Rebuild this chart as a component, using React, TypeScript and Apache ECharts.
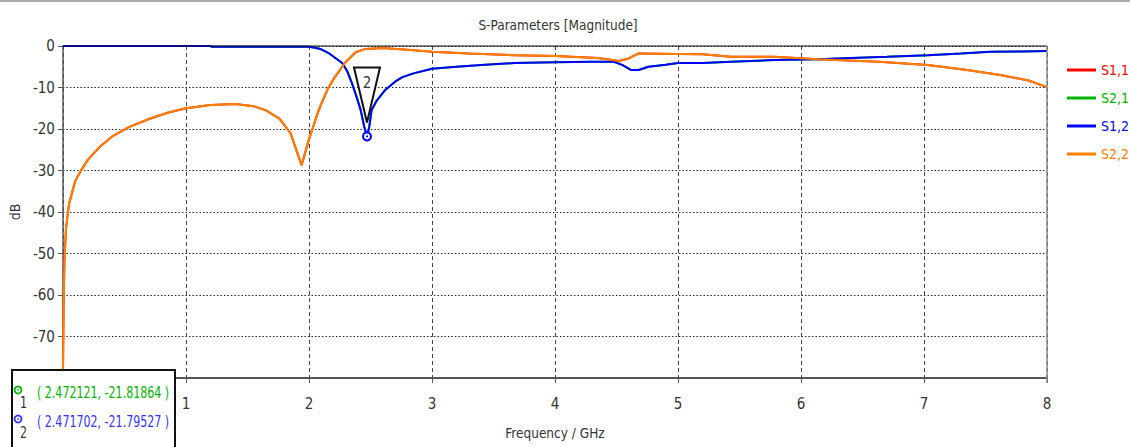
import React, { useEffect, useRef } from "react";
import * as echarts from "echarts";

const FONT = "'DejaVu Sans Condensed', 'Liberation Sans Narrow', 'Noto Sans', sans-serif";

const title = "S-Parameters [Magnitude]";
const xName = "Frequency / GHz";
const yName = "dB";
const seriesNames = ["S1,1", "S2,1", "S1,2", "S2,2"];
const seriesColors = ["#ff0000", "#00b400", "#0000ff", "#ff8000"];

// S1,2 (and S2,1, drawn underneath)
const s12Freq = [0, 1.2, 1.21, 2.0, 2.05, 2.1, 2.16, 2.22, 2.27, 2.31, 2.35, 2.39, 2.42, 2.45, 2.472, 2.49, 2.51, 2.55, 2.62, 2.7, 2.76, 2.85, 3.0, 3.2, 3.4, 3.67, 4.0, 4.3, 4.48, 4.55, 4.62, 4.68, 4.76, 4.9, 5.0, 5.2, 5.43, 5.78, 6.14, 6.41, 6.7, 7.03, 7.3, 7.54, 7.8, 8.0];
const s12dB = [0, 0, -0.2, -0.2, -0.4, -0.8, -1.7, -3.0, -4.1, -6.0, -9.0, -12.5, -15.4, -19.5, -21.8, -19.5, -15.4, -13.2, -10.6, -8.6, -7.5, -6.6, -5.5, -5.0, -4.6, -4.1, -3.9, -3.8, -3.8, -4.6, -5.8, -5.8, -5.0, -4.5, -4.1, -4.1, -3.8, -3.4, -3.2, -2.9, -2.6, -2.2, -1.8, -1.4, -1.3, -1.2];

// S2,2 (and S1,1, drawn underneath)
const s22Freq = [0, 0.005, 0.012, 0.025, 0.05, 0.1, 0.15, 0.2, 0.3, 0.4, 0.54, 0.7, 0.85, 1.0, 1.2, 1.4, 1.55, 1.65, 1.76, 1.85, 1.94, 2.0, 2.08, 2.15, 2.21, 2.3, 2.38, 2.46, 2.6, 2.8, 3.0, 3.3, 3.67, 4.0, 4.35, 4.52, 4.6, 4.68, 5.0, 5.2, 5.43, 5.78, 6.14, 6.63, 7.03, 7.35, 7.62, 7.85, 8.0];
const s22dB = [-80, -64, -52, -44, -38, -32.5, -29.9, -27.5, -24.3, -21.8, -19.5, -17.6, -16.1, -15, -14.2, -14, -14.5, -15.5, -17.5, -21, -28.7, -22.5, -15.4, -10.5, -7.5, -3.8, -1.5, -0.7, -0.5, -0.9, -1.4, -1.8, -2.2, -2.4, -2.9, -3.6, -3.0, -1.8, -1.9, -2.0, -2.6, -2.6, -3.2, -3.8, -4.6, -5.8, -7.0, -8.3, -9.9];

// markers
const marker1 = { label: "1", x: 2.472121, y: -21.81864, color: "#00b400" };
const marker2 = { label: "2", x: 2.471702, y: -21.79527, color: "#3333ff" };

const zip = (xs: number[], ys: number[]) => xs.map((x, i) => [x, ys[i]]);

export default function App() {
  const ref = useRef<HTMLDivElement>(null);
  useEffect(() => {
    if (!ref.current) return;
    const chart = echarts.init(ref.current, undefined, { renderer: "svg" });
    const s12 = zip(s12Freq, s12dB);
    const s22 = zip(s22Freq, s22dB);
    const dataFor = [s22, s12, s12, s22];
    chart.setOption({
      animation: false,
      backgroundColor: "#ffffff",
      title: {
        text: title,
        left: 553,
        top: 13,
        textAlign: "center",
        textStyle: { fontFamily: FONT, fontSize: 13.5, fontWeight: "normal", color: "#333" },
      },
      legend: {
        orient: "vertical",
        left: 1062,
        top: 58,
        itemWidth: 29,
        itemHeight: 3,
        itemGap: 14,
        icon: "rect",
        textStyle: { fontFamily: FONT, fontSize: 14 },
        data: seriesNames.map((n, i) => ({ name: n, textStyle: { color: seriesColors[i] } })),
      },
      grid: { left: 60, right: 83, top: 46, bottom: 69, show: false },
      xAxis: {
        type: "value",
        min: 0,
        max: 8,
        interval: 1,
        name: xName,
        nameLocation: "middle",
        nameGap: 48,
        nameTextStyle: { fontFamily: FONT, fontSize: 13.5, color: "#333" },
        axisLine: { onZero: false, lineStyle: { color: "#555", width: 2 } },
        axisTick: { show: true, length: 5, lineStyle: { color: "#555" } },
        axisLabel: { margin: 18, fontFamily: FONT, fontSize: 15, color: "#333", showMinLabel: false },
        splitLine: { show: true, lineStyle: { type: [4, 3], color: "#444", width: 1 } },
      },
      yAxis: {
        type: "value",
        min: -80,
        max: 0,
        interval: 10,
        name: yName,
        nameLocation: "middle",
        nameGap: 36,
        nameRotate: 90,
        nameTextStyle: { fontFamily: FONT, fontSize: 14, color: "#333" },
        axisLine: { show: true, onZero: false, lineStyle: { color: "#555", width: 1.5 } },
        axisTick: { show: true, length: 5, lineStyle: { color: "#555" } },
        axisLabel: { margin: 8, fontFamily: FONT, fontSize: 15, color: "#333", showMinLabel: false },
        splitLine: { show: true, lineStyle: { type: [1.5, 2], color: "#222", width: 1 } },
      },
      series: seriesNames.map((n, i) => ({
        name: n,
        type: "line",
        data: dataFor[i],
        showSymbol: false,
        symbol: "none",
        clip: true,
        lineStyle: { color: seriesColors[i], width: 2 },
        itemStyle: { color: seriesColors[i] },
        z: 2 + i,
      })),
    });

    const p = chart.convertToPixel({ gridIndex: 0 }, [marker2.x, marker2.y]) as number[];
    const topPx = chart.convertToPixel({ gridIndex: 0 }, [0, 0]) as number[];
    const rightPx = chart.convertToPixel({ gridIndex: 0 }, [8, 0]) as number[];
    const boxText = (text: string, x: number, y: number, color: string, size: number) => ({
      type: "text",
      x,
      y,
      scaleX: 0.82,
      style: { text, fontFamily: FONT, fontSize: size, fill: color, verticalAlign: "middle" },
      z: 31,
    });
    chart.setOption({
      graphic: [
        { type: "line", shape: { x1: 0, y1: 1, x2: 1130, y2: 1 }, style: { stroke: "#aaa", lineWidth: 2 }, z: 10 },
        { type: "line", shape: { x1: topPx[0], y1: topPx[1], x2: rightPx[0], y2: rightPx[1] }, style: { stroke: "#111", lineWidth: 1 }, z: 10 },
        { type: "line", shape: { x1: rightPx[0], y1: rightPx[1], x2: rightPx[0], y2: 383 }, style: { stroke: "#888", lineWidth: 1.5 }, z: 10 },
        {
          type: "polygon",
          shape: { points: [[p[0] - 13, p[1] - 69], [p[0] + 13, p[1] - 69], [p[0], p[1] - 14]] },
          style: { fill: "#ffffff", stroke: "#111", lineWidth: 2 },
          z: 20,
        },
        {
          type: "text",
          x: p[0],
          y: p[1] - 53,
          style: { text: marker2.label, fontFamily: FONT, fontSize: 15, fill: "#333", align: "center", verticalAlign: "middle" },
          z: 21,
        },
        { type: "circle", shape: { cx: p[0], cy: p[1], r: 4 }, style: { fill: "#fff", stroke: "#0000ff", lineWidth: 2 }, z: 20 },
        { type: "circle", shape: { cx: p[0], cy: p[1], r: 1 }, style: { fill: "#0000ff" }, z: 21 },
        // marker info box
        { type: "rect", shape: { x: 12, y: 370, width: 163, height: 82 }, style: { fill: "#ffffff", stroke: "#111", lineWidth: 2 }, z: 30 },
        { type: "circle", shape: { cx: 18, cy: 390, r: 3.5 }, style: { fill: "#fff", stroke: marker1.color, lineWidth: 1.8 }, z: 31 },
        { type: "circle", shape: { cx: 18, cy: 390, r: 0.8 }, style: { fill: marker1.color }, z: 31 },
        boxText(marker1.label, 20, 403, "#333", 15),
        boxText(`( ${marker1.x}, ${marker1.y} )`, 37, 393, marker1.color, 15),
        { type: "circle", shape: { cx: 18, cy: 419, r: 3.5 }, style: { fill: "#fff", stroke: marker2.color, lineWidth: 1.8 }, z: 31 },
        { type: "circle", shape: { cx: 18, cy: 419, r: 0.8 }, style: { fill: marker2.color }, z: 31 },
        boxText(marker2.label, 20, 433, "#333", 15),
        boxText(`( ${marker2.x}, ${marker2.y} )`, 37, 422, marker2.color, 15),
      ],
    });
    return () => chart.dispose();
  }, []);
  return <div ref={ref} style={{ position: "fixed", left: 0, top: 0, width: 1130, height: 447 }} />;
}
